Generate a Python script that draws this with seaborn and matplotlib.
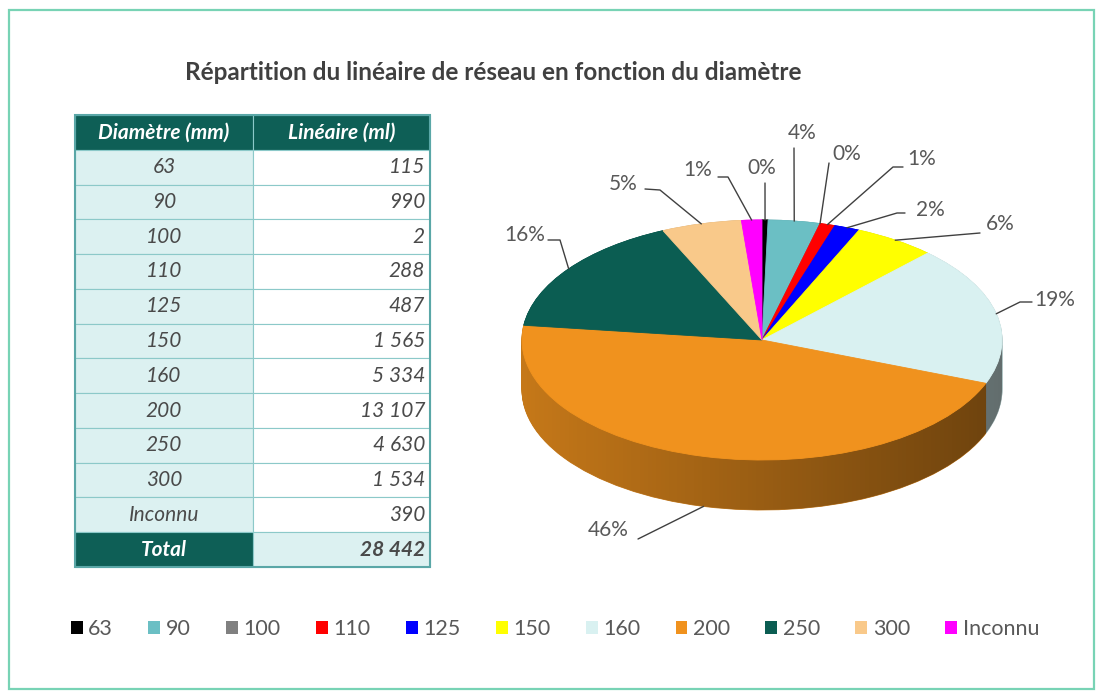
import numpy as np
import matplotlib
matplotlib.use("Agg")
import matplotlib.pyplot as plt
import seaborn as sns
from matplotlib.patches import Rectangle, Patch, PathPatch
from matplotlib.path import Path
from matplotlib.colors import to_rgb

# data
diametres = ['63', '90', '100', '110', '125', '150', '160', '200', '250', '300', 'Inconnu']
lineaire = [115, 990, 2, 288, 487, 1565, 5334, 13107, 4630, 1534, 390]
pct_labels = ['0%', '4%', '0%', '1%', '2%', '6%', '19%', '46%', '16%', '5%', '1%']
couleurs = ['#000000', '#6bbfc4', '#808080', '#ff0000', '#0000ff', '#ffff00',
            '#d9f1f1', '#f0921e', '#0b5d52', '#f9c98a', '#ff00ff']

titre = 'Répartition du linéaire de réseau en fonction du diamètre'
entetes = ['Diamètre (mm)', 'Linéaire (ml)']

sns.set_theme(style='white')
plt.rcParams['font.family'] = ['Lato', 'DejaVu Sans']

W, H = 1099, 692
fig = plt.figure(figsize=(W / 100, H / 100), dpi=100)
fig.patch.set_facecolor('white')

# background axes in pixel coords (border, title, table)
bg = fig.add_axes([0, 0, 1, 1])
bg.set_xlim(0, W)
bg.set_ylim(H, 0)
bg.axis('off')

bg.add_patch(Rectangle((9, 10), 1085, 679, fill=False, edgecolor='#78d3b5', lw=1.6))
bg.text(493, 72, titre, ha='center', va='center', fontsize=17.5,
        fontweight='bold', color='#404040')

# table
def fmt(v):
    return '{:,}'.format(v).replace(',', ' ')

x0, x1, x2 = 75, 253, 430
top, bottom = 115, 567
nrows = len(diametres) + 2
rh = (bottom - top) / nrows
dark = '#0e5f56'
light = '#dcf1f1'
txt = '#4a4a4a'

rows = [(entetes[0], entetes[1])] + [(d, fmt(v)) for d, v in zip(diametres, lineaire)] + \
       [('Total', fmt(sum(lineaire)))]
for i, (a, b) in enumerate(rows):
    y = top + i * rh
    head = i == 0
    tot = i == nrows - 1
    lfc = dark if (head or tot) else light
    rfc = dark if head else (light if tot else 'white')
    bg.add_patch(Rectangle((x0, y), x1 - x0, rh, facecolor=lfc, edgecolor='#8cc9c9', lw=0.8))
    bg.add_patch(Rectangle((x1, y), x2 - x1, rh, facecolor=rfc, edgecolor='#8cc9c9', lw=0.8))
    lc = 'white' if (head or tot) else txt
    rc = 'white' if head else txt
    wt = 'bold' if (head or tot) else 'normal'
    bg.text((x0 + x1) / 2, y + rh / 2, a, ha='center', va='center', fontsize=15,
            style='italic', fontweight=wt, color=lc)
    if head:
        bg.text((x1 + x2) / 2, y + rh / 2, b, ha='center', va='center', fontsize=15,
                style='italic', fontweight='bold', color=rc)
    else:
        bg.text(x2 - 5, y + rh / 2, b, ha='right', va='center', fontsize=15,
                style='italic', fontweight=wt, color=rc)
bg.add_patch(Rectangle((x0, top), x2 - x0, bottom - top, fill=False, edgecolor='#5aa7a7', lw=1.5))

# pie axes: full figure, x unit = rx px, y unit = ry px, centre at (cx, cy) px
cx, cy, rx, ry, dep = 762, 340, 240, 120, 50
ax = fig.add_axes([0, 0, 1, 1])
ax.patch.set_alpha(0)

def X(px):
    return (px - cx) / rx

def Y(py):
    return (cy - py) / ry

depth = dep / ry
side = [tuple(np.array(to_rgb(c)) * 0.82) for c in couleurs]
for k in np.linspace(depth, 0, 60):
    wedges, _ = ax.pie(lineaire, colors=side, startangle=90, counterclock=False,
                       center=(0, -k), radius=1, wedgeprops=dict(linewidth=0))
    for w in wedges:
        w.set_edgecolor(w.get_facecolor())
        w.set_linewidth(0.6)

# darken side towards the right
t = np.linspace(np.pi, 2 * np.pi, 200)
verts = list(zip(np.cos(t), np.sin(t) - depth)) + list(zip(np.cos(t[::-1]), np.sin(t[::-1])))
clip = PathPatch(Path(verts), transform=ax.transData, facecolor='none', edgecolor='none')
ax.add_patch(clip)
grad = np.zeros((2, 256, 4))
grad[..., 3] = np.linspace(0.0, 0.45, 256)[None, :]
im = ax.imshow(grad, extent=(-1, 1, -1 - depth, 0.2), aspect='auto', zorder=3)
im.set_clip_path(clip)

wedges, _ = ax.pie(lineaire, colors=couleurs, startangle=90, counterclock=False,
                   radius=1, wedgeprops=dict(linewidth=0))
for w in wedges:
    w.set_edgecolor(w.get_facecolor())
    w.set_linewidth(0.6)
    w.set_zorder(4)

# labels: (text x, text y, elbow x, elbow y) in pixels
lab_pos = [(762, 168, 765, 183), (802, 133, 794, 148), (847, 154, 829, 163),
           (922, 159, 903, 167), (930, 210, 905, 213), (1000, 224, 980, 233),
           (1055, 300, 1032, 302), (608, 530, 638, 539), (525, 235, 548, 240),
           (623, 184, 645, 189), (698, 170, 718, 177)]
elbow2 = [None, None, None, (893, 167), (897, 213), None, (1020, 302), None,
          (560, 240), (660, 190), (728, 177)]
cum = np.cumsum([0] + lineaire) / sum(lineaire)
for i, lab in enumerate(pct_labels):
    mid = np.deg2rad(90 - 360 * (cum[i] + cum[i + 1]) / 2)
    axx, ayy = np.cos(mid), np.sin(mid)
    if ayy < -0.5:
        ayy -= depth
    tx, ty, ex, ey = lab_pos[i]
    pts = [(axx, ayy)]
    if elbow2[i] is not None:
        pts.append((X(elbow2[i][0]), Y(elbow2[i][1])))
    pts.append((X(ex), Y(ey)))
    pts = np.array(pts)
    ax.plot(pts[:, 0], pts[:, 1], color='#404040', lw=1, zorder=5)
    ax.text(X(tx), Y(ty), lab, ha='center', va='center', fontsize=15, color='#595959', zorder=6)

ax.set_aspect('auto')
ax.set_xlim(X(0), X(W))
ax.set_ylim(Y(H), Y(0))
ax.axis('off')

handles = [Patch(facecolor=c, edgecolor='none') for c in couleurs]
fig.legend(handles, diametres, loc='center', bbox_to_anchor=(555 / W, 1 - 629 / H),
           ncol=len(diametres), frameon=False, fontsize=15.5, handlelength=0.55,
           handleheight=0.55, handletextpad=0.25, columnspacing=1.65, labelcolor='#595959')

fig.savefig('out.png', dpi=100, facecolor='white')
